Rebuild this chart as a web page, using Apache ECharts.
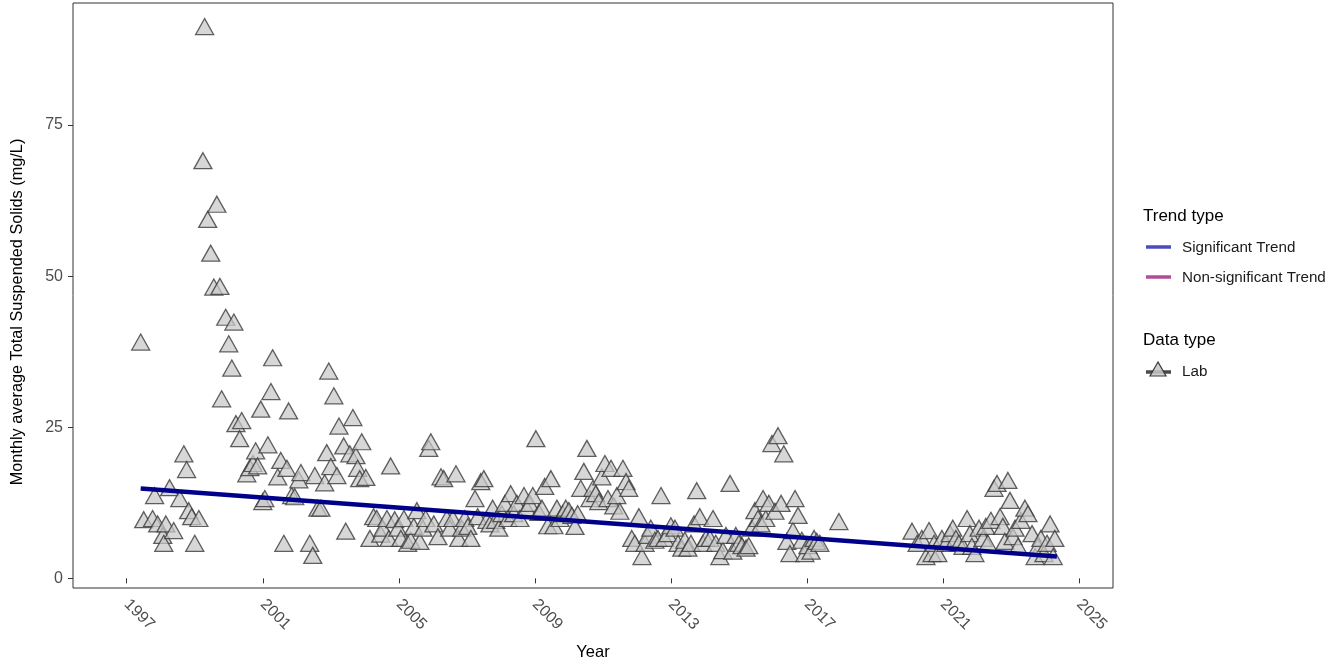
<!DOCTYPE html>
<html>
<head>
<meta charset="utf-8">
<script src="https://cdn.jsdelivr.net/npm/echarts@6/dist/echarts.min.js"></script>
<style>
html,body{margin:0;padding:0;background:#fff;}
#chart{width:1343px;height:666px;}
</style>
</head>
<body>
<div id="chart"></div>
<script>
// ---- data ----
const labYears = [
1997.41,1997.50,1997.82,1997.76,1997.91,1998.06,1998.15,1998.26,1998.09,1998.38,1998.56,1998.68,1998.76,1998.82,1998.91,1999.00,1999.12,
1999.24,1999.29,1999.38,1999.47,1999.56,1999.65,1999.74,1999.79,1999.91,2000.00,2000.09,2000.15,2000.21,2000.32,2000.38,2000.53,2000.62,
2000.71,2000.79,2000.85,2000.94,2001.00,2001.06,2001.15,2001.24,2001.29,2001.44,2001.53,2001.62,2001.71,2001.76,2001.85,2001.94,2002.06,
2002.12,2002.38,2002.47,2002.53,2002.62,2002.71,2002.82,2002.88,2002.94,2003.00,2003.09,2003.18,2003.24,2003.38,2003.44,2003.56,2003.65,
2003.74,2003.79,2003.85,2003.91,2004.03,2004.15,2004.26,2004.35,2004.47,2004.53,2004.65,2004.71,2004.76,2004.88,2004.97,2005.06,2005.15,
2005.26,2005.35,2005.44,2005.53,2005.62,2005.71,2005.79,2005.88,2005.94,2006.03,2006.15,2006.24,2006.32,2006.41,2006.50,2006.59,2006.68,
2006.76,2006.85,2006.94,2007.03,2007.12,2007.24,2007.32,2007.41,2007.50,2007.59,2007.68,2007.76,2007.85,2007.94,2008.03,2008.12,2008.21,
2008.29,2008.38,2008.47,2008.56,2008.68,2008.76,2008.85,2008.94,2009.03,2009.12,2009.21,2009.29,2009.38,2009.47,2009.56,2009.65,2009.74,
2009.82,2009.91,2010.00,2010.09,2010.18,2010.26,2010.35,2010.44,2010.53,2010.62,2010.71,2010.79,2010.88,2010.97,2011.06,2011.15,2011.24,
2011.32,2011.41,2011.50,2011.59,2011.68,2011.76,2011.85,2011.94,2012.06,2012.15,2012.24,2012.32,2012.41,2012.53,2012.62,2012.71,2012.82,
2012.91,2013.00,2013.12,2013.21,2013.32,2013.41,2013.50,2013.59,2013.68,2013.76,2013.85,2013.94,2014.03,2014.15,2014.24,2014.32,2014.44,
2014.53,2014.62,2014.74,2014.82,2014.91,2015.00,2015.09,2015.21,2015.29,2015.38,2015.47,2015.56,2015.65,2015.71,2015.79,2015.88,2015.97,
2016.06,2016.15,2016.24,2016.32,2016.41,2016.50,2016.59,2016.65,2016.74,2016.85,2016.94,2017.03,2017.12,2017.21,2017.29,2017.38,2017.94,
2020.09,2020.24,2020.38,2020.50,2020.59,2020.68,2020.74,2020.85,2020.97,2021.09,2021.21,2021.29,2021.38,2021.47,2021.59,2021.71,2021.79,
2021.85,2021.94,2022.06,2022.18,2022.26,2022.32,2022.41,2022.50,2022.59,2022.68,2022.76,2022.82,2022.91,2022.97,2023.06,2023.12,2023.21,
2023.29,2023.41,2023.50,2023.62,2023.71,2023.79,2023.88,2023.97,2024.06,2024.15,2024.24,2024.29,2024.47
];
const labValues = [
39.1,9.7,13.7,9.9,9.0,7.1,9.0,15.0,5.8,7.9,13.2,20.6,18.0,11.2,10.2,5.8,9.9,
69.1,91.3,59.4,53.8,48.2,61.9,48.3,29.7,43.2,38.8,34.8,42.4,25.6,23.1,26.1,17.3,18.3,
19.0,21.1,18.6,28.0,12.7,13.2,22.1,30.9,36.5,16.8,19.5,5.8,18.2,27.7,13.7,13.5,16.3,
17.5,5.8,3.8,17.0,11.6,11.6,15.8,20.8,34.3,18.5,30.2,17.0,25.2,21.9,7.8,20.6,26.6,
20.3,18.2,16.5,22.6,16.7,6.6,10.2,9.9,7.3,8.3,9.9,6.6,18.6,9.7,8.3,6.6,9.9,
5.8,6.3,8.6,11.2,6.1,8.3,9.9,21.5,22.6,9.0,6.9,16.8,16.5,9.9,8.3,9.9,17.3,
6.6,8.3,9.9,8.6,6.6,13.2,10.2,16.0,16.5,9.6,9.0,11.6,9.6,8.3,10.7,12.4,9.9,
14.0,10.7,12.4,9.9,13.7,11.6,12.4,13.7,23.1,10.9,11.6,15.2,8.7,16.5,8.7,11.6,9.9,
10.7,11.6,11.2,10.4,8.6,10.7,14.9,17.7,21.5,13.2,14.9,14.0,12.7,16.8,19.0,13.2,18.2,
12.0,13.7,11.1,18.2,16.0,14.9,6.6,5.8,10.2,3.6,5.8,7.1,8.3,6.3,6.6,13.7,6.6,
7.4,8.7,8.3,5.8,5.0,6.3,5.0,5.8,9.0,14.5,10.2,5.8,6.6,6.6,9.9,5.8,3.6,
4.6,7.1,15.7,4.5,7.1,5.8,5.4,5.0,5.4,8.3,11.2,9.9,9.0,13.2,9.9,12.4,22.3,
11.1,23.6,12.4,20.6,6.1,4.1,7.9,13.2,10.4,6.3,4.1,5.4,4.5,6.6,6.1,5.8,9.4,
7.8,5.8,6.6,3.6,7.9,4.1,5.8,4.1,6.6,5.8,7.4,8.3,6.6,5.8,5.3,9.9,7.4,
5.3,4.1,8.3,6.6,8.6,5.8,9.6,14.9,15.7,10.2,8.6,6.1,16.2,12.9,6.9,8.3,5.3,
9.6,11.6,10.7,7.4,3.6,5.3,6.6,4.1,5.8,9.0,3.6,6.6
];
const trendYears = [1997.41, 2024.35];
const trendValues = [14.85, 3.63];
const xTicks = [1997, 2001, 2005, 2009, 2013, 2017, 2021, 2025];
const yTicks = [0, 25, 50, 75];
const trendNames = ['Significant Trend', 'Non-significant Trend'];
const dataTypeNames = ['Lab'];

// ---- chart ----
const FONT = '"Liberation Sans", Arial, sans-serif';
const chart = echarts.init(document.getElementById('chart'));
const labData = labYears.map((y, i) => [y, labValues[i]]);
const trendData = trendYears.map((y, i) => [y, trendValues[i]]);

const option = {
  animation: false,
  backgroundColor: '#ffffff',
  grid: { left: 73, top: 3, right: 230, bottom: 76, show: true, borderColor: '#333333', borderWidth: 1, backgroundColor: 'transparent' },
  xAxis: {
    type: 'value', min: 1995.42, max: 2026.0,
    name: 'Year', nameLocation: 'middle', nameGap: 56,
    nameTextStyle: { fontFamily: FONT, fontSize: 16.5, color: '#000' },
    axisLine: { show: false },
    splitLine: { show: false },
    axisTick: { show: true, length: 5, lineStyle: { color: '#333' }, customValues: xTicks },
    axisLabel: { customValues: xTicks, rotate: -45, fontFamily: FONT, fontSize: 16, color: '#4D4D4D', margin: 14, formatter: v => String(v) }
  },
  yAxis: {
    type: 'value', min: -1.6, max: 95.2,
    axisLine: { show: false },
    splitLine: { show: false },
    axisTick: { show: true, length: 5, lineStyle: { color: '#333' }, customValues: yTicks },
    axisLabel: { customValues: yTicks, fontFamily: FONT, fontSize: 16, color: '#4D4D4D', margin: 10, formatter: v => String(v) }
  },
  series: [
    {
      type: 'scatter', name: 'Lab', data: labData,
      symbol: 'triangle', symbolSize: [18, 16],
      itemStyle: { color: 'rgba(200,200,200,0.9)', borderColor: '#3a3a3a', borderWidth: 1.3 },
      z: 2
    },
    {
      type: 'line', name: 'Significant Trend', data: trendData,
      symbol: 'none', lineStyle: { color: '#00008B', width: 4.5 }, z: 3
    }
  ],
  graphic: [
    { type: 'text', x: 18, y: 312, rotation: Math.PI / 2, style: { text: 'Monthly average Total Suspended Solids (mg/L)', fontFamily: FONT, fontSize: 16.3, fill: '#000', align: 'center', verticalAlign: 'middle' } },
    { type: 'text', x: 1143, y: 216, style: { text: 'Trend type', fontFamily: FONT, fontSize: 17, fill: '#000', verticalAlign: 'middle' } },
    { type: 'line', shape: { x1: 1146, y1: 247, x2: 1171, y2: 247 }, style: { stroke: '#4C4CBF', lineWidth: 3.5 } },
    { type: 'text', x: 1182, y: 248, style: { text: trendNames[0], fontFamily: FONT, fontSize: 15.2, fill: '#1a1a1a', verticalAlign: 'middle' } },
    { type: 'line', shape: { x1: 1146, y1: 277, x2: 1171, y2: 277 }, style: { stroke: '#B24C99', lineWidth: 3.5 } },
    { type: 'text', x: 1182, y: 278, style: { text: trendNames[1], fontFamily: FONT, fontSize: 15.2, fill: '#1a1a1a', verticalAlign: 'middle' } },
    { type: 'text', x: 1143, y: 340, style: { text: 'Data type', fontFamily: FONT, fontSize: 17, fill: '#000', verticalAlign: 'middle' } },
    { type: 'line', shape: { x1: 1146, y1: 372, x2: 1171, y2: 372 }, style: { stroke: '#4a4a4a', lineWidth: 3.5 } },
    { type: 'polygon', shape: { points: [[1158, 362], [1150, 376], [1166, 376]] }, style: { fill: 'rgba(200,200,200,0.85)', stroke: '#3a3a3a', lineWidth: 1.2 } },
    { type: 'text', x: 1182, y: 372, style: { text: dataTypeNames[0], fontFamily: FONT, fontSize: 15.2, fill: '#1a1a1a', verticalAlign: 'middle' } }
  ]
};
chart.setOption(option);
</script>
</body>
</html>
